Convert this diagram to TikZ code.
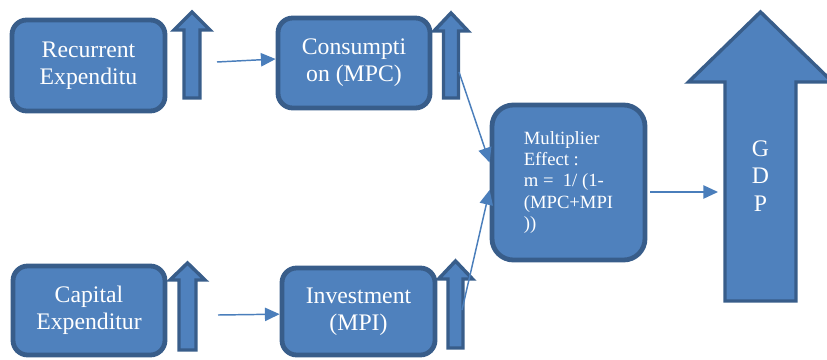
\documentclass[tikz,border=0pt]{standalone}
\usepackage{fontspec}
\setmainfont{Liberation Serif}
\usetikzlibrary{arrows.meta}
\definecolor{boxfill}{HTML}{4F81BD}
\definecolor{boxline}{HTML}{385D8A}
\definecolor{connline}{HTML}{4A7EBB}
\tikzset{
  blockbox/.style={draw=boxline, fill=boxfill, line width=3.6pt, rounded corners=11pt,
    text=white, align=center, inner sep=0pt, font=\fontsize{17.8}{20.5}\selectfont},
  blockarr/.style={draw=boxline, fill=boxfill, line width=2.6pt, line join=miter},
  conn/.style={draw=connline, line width=1.1pt, -{Triangle[length=11pt,width=10pt]}},
}
% up arrow: tip x, tip y, head half width, head base y, shaft half width, bottom y
\newcommand{\blockarrow}[6]{%
  \draw[blockarr] (#1,#2) -- (#1+#3,#4) -- (#1+#5,#4) -- (#1+#5,#6)
    -- (#1-#5,#6) -- (#1-#5,#4) -- (#1-#3,#4) -- cycle;}
\begin{document}
\begin{tikzpicture}[x=0.75pt,y=-0.75pt]
  \useasboundingbox (0,0) rectangle (827,360);
  % boxes
  \node[blockbox, minimum width=114.75pt, minimum height=68.25pt] (rec) at (88.5,65.5) {Recurrent\\Expenditu};
  \node[blockbox, minimum width=114pt, minimum height=67.5pt] (cons) at (354,63) {Consumpti\\on (MPC)};
  \node[blockbox, minimum width=114pt, minimum height=66.75pt] (cap) at (89,310.5) {Capital\\Expenditur};
  \node[blockbox, minimum width=114.75pt, minimum height=65.25pt] (inv) at (358.5,311.5) {Investment\\(MPI)};
  \node[blockbox, minimum width=114.75pt, minimum height=116.25pt, rounded corners=16pt,
    align=left, font=\fontsize{14}{15.8}\selectfont] (mult) at (568.5,182.5)
    {Multiplier\\Effect :\\m = \ 1/ (1-\\(MPC+MPI\\))};
  % up arrows
  \blockarrow{192}{12}{18}{30}{8}{98}
  \blockarrow{451}{13}{17}{31}{7.5}{98}
  \blockarrow{187.5}{263}{17.5}{280}{8.5}{350}
  \blockarrow{455.5}{261}{17}{279}{7.5}{348}
  \blockarrow{760.5}{12}{72}{82}{35.5}{301}
  \node[text=white, align=center, font=\fontsize{17.8}{20.6}\selectfont] (gdp) at (760.5,176) {G\\D\\P};
  % connector ends
  \coordinate (rec-out) at (217,62);
  \coordinate (cons-out) at (459,72);
  \coordinate (cap-out) at (218,315);
  \coordinate (inv-out) at (462,310);
  \coordinate (mult-out) at (650,192);
  \coordinate (gdp-in) at (718,192);
  % connectors
  \draw[conn] (rec-out) -- ([yshift=3pt]cons.west);
  \draw[conn] (cap-out) -- ([yshift=-2pt]inv.west);
  \draw[conn] (cons-out) -- ([yshift=15pt]mult.west);
  \draw[conn] (inv-out) -- ([yshift=-5.6pt]mult.west);
  \draw[conn] (mult-out) -- (gdp-in);
\end{tikzpicture}
\end{document}
